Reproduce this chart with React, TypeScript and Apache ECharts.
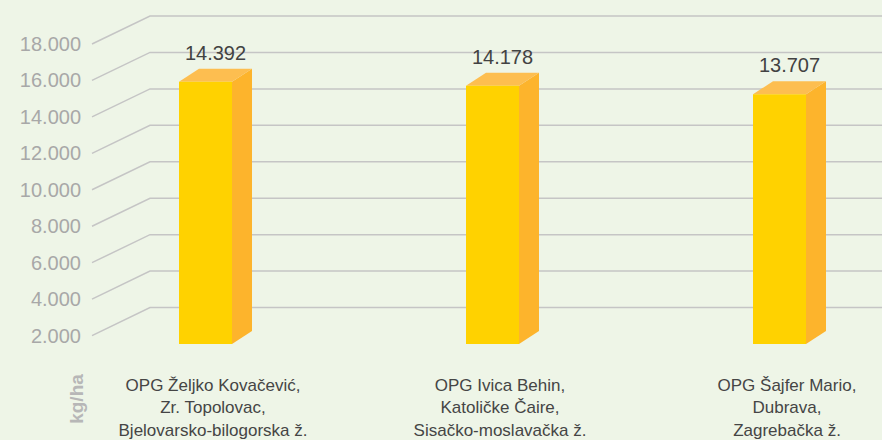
import React, { useEffect, useRef } from "react";
import * as echarts from "echarts";

const categories = [
  "OPG Željko Kovačević,\nZr. Topolovac,\nBjelovarsko-bilogorska ž.",
  "OPG Ivica Behin,\nKatoličke Čaire,\nSisačko-moslavačka ž.",
  "OPG Šajfer Mario,\nDubrava,\nZagrebačka ž.",
];
const values = [14392, 14178, 13707];
const yTicks = [2000, 4000, 6000, 8000, 10000, 12000, 14000, 16000, 18000];
const yMax = 18000;
const yStep = 2000;
const unitLabel = "kg/ha";

const FONT = '"Liberation Sans", Arial, Helvetica, sans-serif';

const fmt = (v: number) => String(Math.round(v)).replace(/\B(?=(\d{3})+(?!\d))/g, ".");

export default function App() {
  const ref = useRef<HTMLDivElement>(null);
  useEffect(() => {
    if (!ref.current) return;
    const chart = echarts.init(ref.current, undefined, { renderer: "svg" });
    const barsLeft = 69.5;
    const slot = 287;
    const firstCenter = 213;
    const xMin = -(firstCenter - barsLeft) / slot;
    const xMax = xMin + (882 - barsLeft) / slot;
    const option: any = {
      animation: false,
      backgroundColor: "#eef5e7",
      textStyle: { fontFamily: FONT },
      grid: [
        { left: 150, right: 0, top: 16, bottom: 96 },
        { left: 92, right: 0, top: 44, bottom: 68 },
        { left: barsLeft, right: 0, top: 16, bottom: 96 },
      ],
      xAxis: [
        { gridIndex: 0, type: "value", min: 0, max: 1, show: false },
        { gridIndex: 1, type: "value", min: 0, max: 1, show: false },
        { gridIndex: 2, type: "value", min: xMin, max: xMax, show: false },
      ],
      yAxis: [
        {
          gridIndex: 0,
          type: "value",
          min: 0,
          max: yMax,
          interval: yStep,
          show: false,
          splitLine: { show: false },
        },
        {
          gridIndex: 1,
          type: "value",
          min: 0,
          max: yMax,
          interval: yStep,
          axisLine: { show: false },
          axisTick: { show: false },
          splitLine: { show: false },
          axisLabel: {
            margin: 11,
            fontSize: 20,
            color: "#a8a8a8",
            fontFamily: FONT,
            formatter: (v: number) => (v === 0 ? "" : fmt(v)),
          },
        },
        {
          gridIndex: 2,
          type: "value",
          min: 0,
          max: yMax,
          interval: yStep,
          show: false,
          splitLine: { show: false },
        },
      ],
      graphic: [
        {
          type: "text",
          x: 76,
          y: 399,
          rotation: Math.PI / 2,
          style: {
            text: unitLabel,
            fontSize: 19,
            fontWeight: "bold",
            fontFamily: FONT,
            fill: "#b7b7b7",
            align: "center",
            verticalAlign: "middle",
          },
        },
      ],
      series: [
        {
          type: "custom",
          xAxisIndex: 0,
          yAxisIndex: 0,
          z: 1,
          clip: false,
          silent: true,
          data: yTicks.map((v) => [0, v]),
          renderItem: (_p: any, api: any) => {
            const v = api.value(1);
            const p = api.coord([0, v]);
            const q = api.coord([1, v]);
            return {
              type: "polyline",
              shape: { points: [[p[0] - 58, p[1] + 28], p, q] },
              style: { stroke: "#c5c5c5", lineWidth: 1.5, fill: "none" },
            };
          },
        },
        {
          type: "custom",
          xAxisIndex: 2,
          yAxisIndex: 2,
          z: 5,
          clip: false,
          data: values.map((v, i) => [i, v]),
          renderItem: (params: any, api: any) => {
            const cat = api.value(0);
            const v = api.value(1);
            const base = api.coord([cat, 0]);
            const top = api.coord([cat, v]);
            const cx = base[0];
            const y0 = base[1];
            const yt = top[1];
            const W = 53;
            const L = cx - 34;
            const R = L + W;
            const D = 20;
            const H = 13;
            return {
              type: "group",
              children: [
                {
                  type: "polygon",
                  shape: { points: [[R, yt], [R + D, yt - H], [R + D, y0 - H], [R, y0]] },
                  style: { fill: "#fdb42c" },
                },
                {
                  type: "polygon",
                  shape: { points: [[L, yt], [L + D, yt - H], [R + D, yt - H], [R, yt]] },
                  style: { fill: "#fdbe50" },
                },
                {
                  type: "rect",
                  shape: { x: L, y: yt, width: W, height: y0 - yt },
                  style: { fill: "#ffd200" },
                },
                {
                  type: "text",
                  x: (L + R + D) / 2,
                  y: yt - H - 16,
                  style: {
                    text: fmt(v),
                    fontSize: 20,
                    fontFamily: FONT,
                    fill: "#424242",
                    align: "center",
                    verticalAlign: "middle",
                  },
                },
                {
                  type: "text",
                  x: cx,
                  y: y0 + 30,
                  style: {
                    text: categories[params.dataIndex],
                    fontSize: 17,
                    lineHeight: 22.5,
                    fontFamily: FONT,
                    fill: "#454545",
                    align: "center",
                    verticalAlign: "top",
                  },
                },
              ],
            };
          },
        },
      ],
    };
    chart.setOption(option);
    return () => chart.dispose();
  }, []);
  return (
    <div
      ref={ref}
      style={{ position: "fixed", left: 0, top: 0, width: 882, height: 440 }}
    />
  );
}
